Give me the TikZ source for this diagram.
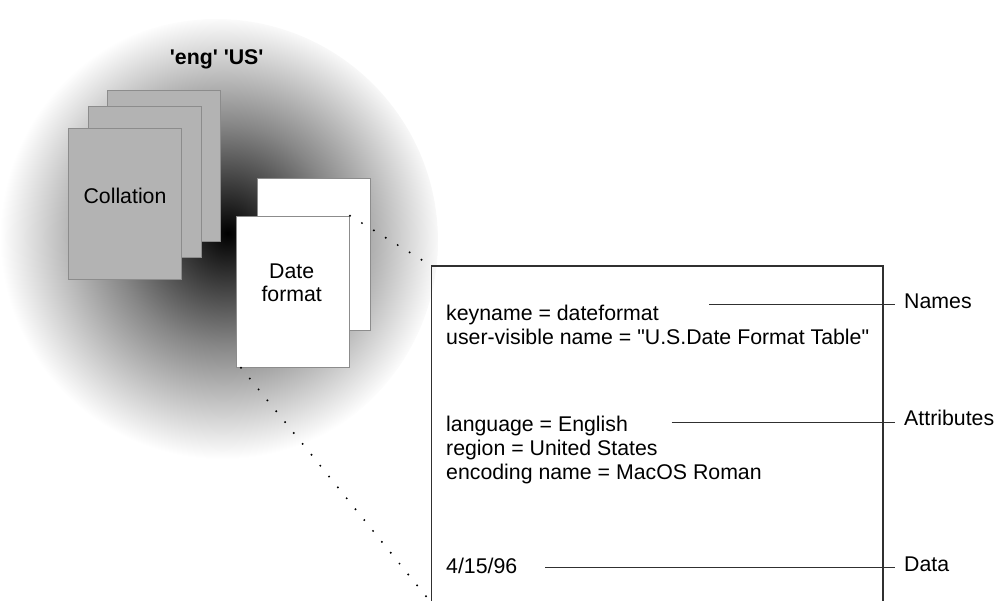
\documentclass[tikz,border=0pt]{standalone}
\usepackage{fontspec}
\newfontfamily\helv{Liberation Sans}
\usepackage{tikz}
\usetikzlibrary{positioning}
\definecolor{pagegray}{HTML}{B3B3B3}
\definecolor{pageedge}{HTML}{8C8C8C}
\definecolor{inkgray}{HTML}{303030}
% dark spot sits a little up and right of the disc centre
\pgfdeclareradialshading{glow}{\pgfpoint{1.3bp}{0.9bp}}{color(0bp)=(black); color(12.5bp)=(black!47); color(25bp)=(white); color(50bp)=(white)}
\tikzset{
    sheet/.style={draw=pageedge, line width=1pt, minimum width=113pt, minimum height=151pt, inner sep=0pt},
    graysheet/.style={sheet, fill=pagegray},
    whitesheet/.style={sheet, fill=white},
    txt/.style={font=\helv\fontsize{21.3}{24}\selectfont, inner sep=0pt},
    lead/.style={inkgray, line width=1.3pt},
    dotline/.style={line width=2.2pt, line cap=round, dash pattern=on 0pt off 14pt},
}
% label on the right plus its leader line
\def\Tag #1 at (#2) from (#3) #4; {
    \node[txt, anchor=base west, inner xsep=9pt] (#1) at (#2) {#4};
    \coordinate (#1from) at (#3);
    \draw[lead] (#1from) -- (#1from -| #1.west);
}

\begin{document}
\begin{tikzpicture}[x=1pt, y=-1pt]
        \useasboundingbox (0, 0) rectangle (995, 601);
        \shade[shading=glow] (216, 241) circle (222pt);
        \node[txt, font=\helv\bfseries\fontsize{21.3}{24}\selectfont, anchor=base] (locale) at (216.7, 65) {'eng' 'US'};

        % collation tables
        \node[graysheet] (col3) at (164.3, 166.3) {};
        \node[graysheet] (col2) at (145.3, 182.2) {};
        \node[graysheet] (col1) at (124.7, 204.3) {};
        \node[txt, anchor=base] (coltxt) at (125, 204) {Collation};

        % date format tables
        \node[whitesheet] (dateback) at (314.2, 254.5) {};
        \node[whitesheet] (datefront) at (293, 291.7) {};
        \node[txt, anchor=base] (datetxt) at (291.7, 278.3) {Date};
        \node[txt, anchor=base] (formattxt) at (291.7, 301.7) {format};

        % zoomed table
        \node[minimum width=451pt, minimum height=337pt, anchor=north west, inner sep=0pt] (tbl) at (431.7, 266) {};
        \draw[lead] (tbl.south west) -- (tbl.north west) -- (tbl.north east) -- (tbl.south east);
        \draw[dotline] (datefront.north east) -- (tbl.north west);
        \draw[dotline] ([xshift=5pt]datefront.south west) -- (tbl.south west);

        \node[txt, anchor=base west] (keyline) at (446, 320) {keyname = dateformat};
        \node[txt, anchor=base west] (userline) at (446, 344.3) {user-visible name = "U.S.Date Format Table"};
        \node[txt, anchor=base west] (langline) at (446, 431.7) {language = English};
        \node[txt, anchor=base west] (regionline) at (446, 455.7) {region = United States};
        \node[txt, anchor=base west] (encline) at (446, 479.7) {encoding name = MacOS Roman};
        \node[txt, anchor=base west] (dateline) at (446, 573.3) {4/15/96};

        \Tag names at (895, 308.3) from (709, 304.3) Names;
        \Tag attrs at (895, 425.5) from (671.7, 422.3) Attributes;
        \Tag data at (895, 571) from (545, 567.3) Data;
    \end{tikzpicture}
\end{document}
